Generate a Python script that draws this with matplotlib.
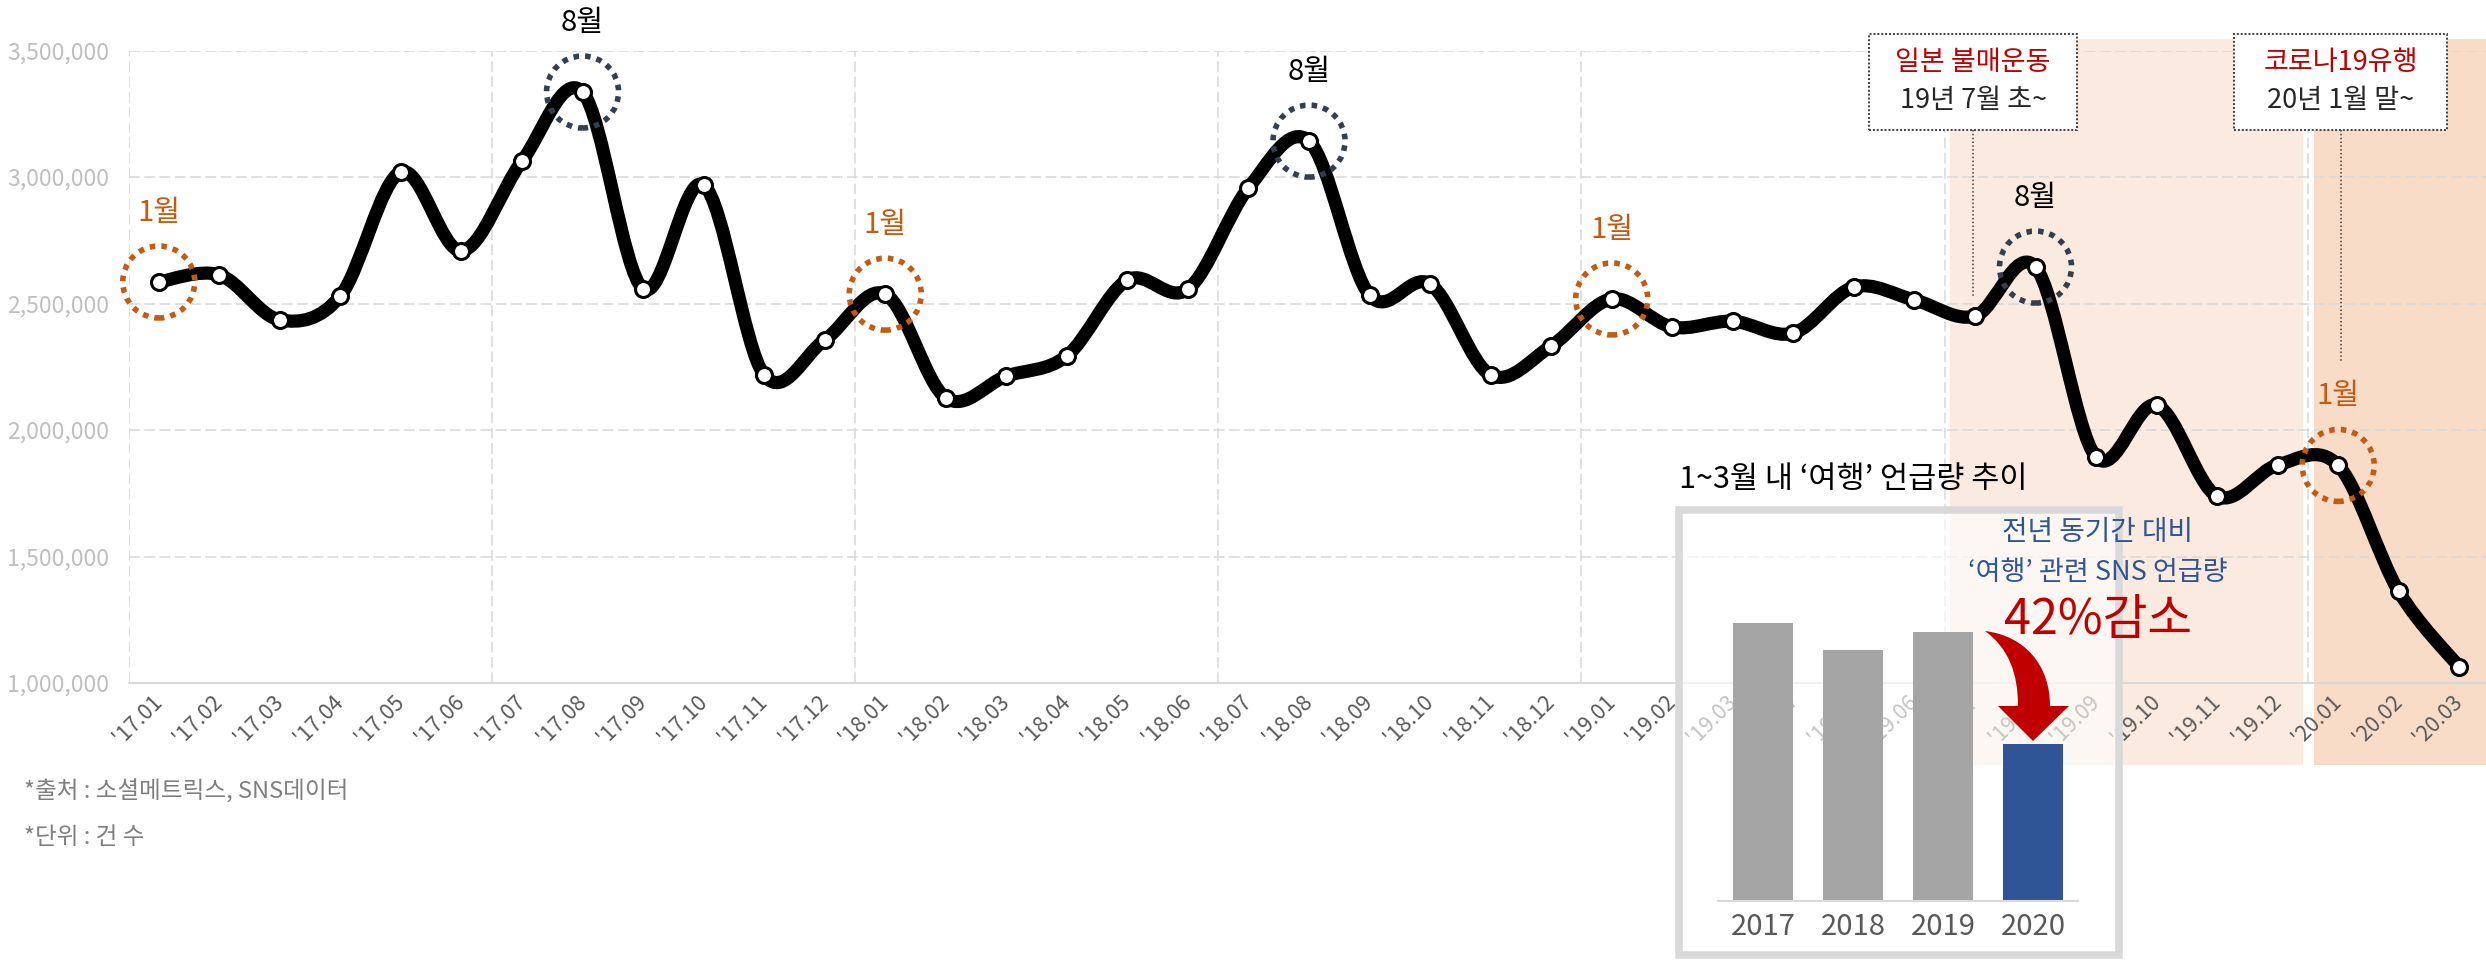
import numpy as np
import matplotlib
matplotlib.use("Agg")
import matplotlib.pyplot as plt
import matplotlib.transforms as mtransforms
from matplotlib.path import Path
from matplotlib.patches import PathPatch, Rectangle, Circle
from matplotlib.lines import Line2D
from matplotlib.ticker import StrMethodFormatter

plt.rcParams['font.family'] = ['Noto Sans CJK KR', 'DejaVu Sans']

# monthly '여행' mentions, '17.01 ~ '20.03
months = ["'17.01", "'17.02", "'17.03", "'17.04", "'17.05", "'17.06",
          "'17.07", "'17.08", "'17.09", "'17.10", "'17.11", "'17.12",
          "'18.01", "'18.02", "'18.03", "'18.04", "'18.05", "'18.06",
          "'18.07", "'18.08", "'18.09", "'18.10", "'18.11", "'18.12",
          "'19.01", "'19.02", "'19.03", "'19.04", "'19.05", "'19.06",
          "'19.07", "'19.08", "'19.09", "'19.10", "'19.11", "'19.12",
          "'20.01", "'20.02", "'20.03"]
mentions = [2585000, 2613000, 2435000, 2530000, 3020000, 2708000,
            3063000, 3336000, 2558000, 2968000, 2217000, 2356000,
            2537000, 2127000, 2213000, 2293000, 2593000, 2557000,
            2957000, 3142000, 2533000, 2577000, 2217000, 2332000,
            2518000, 2407000, 2430000, 2383000, 2565000, 2514000,
            2450000, 2644000, 1893000, 2098000, 1738000, 1862000,
            1860000, 1362000, 1063000]
jan_points = ["'17.01", "'18.01", "'19.01", "'20.01"]
aug_points = ["'17.08", "'18.08", "'19.08"]
y_ticks = [1000000, 1500000, 2000000, 2500000, 3000000, 3500000]

# inset: Q1 totals
q1_years = ['2017', '2018', '2019', '2020']
q1_mentions = [7630000, 6880000, 7360000, 4290000]

ORANGE = '#C55A11'
SLATE = '#323F4F'
RED = '#C00000'
BLUE = '#2F5597'

W, H = 2486, 960
fig = plt.figure(figsize=(W / 100, H / 100), dpi=100)


def fx(x):
    return x / W


def fy(y):
    # y measured from the top of the picture, in pixels
    return 1 - y / H


# ---- main line chart ----
ax = fig.add_axes([fx(128.5), fy(683), 39 * 60.54 / W, (683 - 50.5) / H])
ax.set_facecolor('none')
xs = np.arange(len(months))
ys = np.array(mentions, dtype=float)

# smoothed line like excel: cubic bezier through the points
pts = np.column_stack([xs, ys])
ext = np.vstack([pts[0], pts, pts[-1]])
verts = [pts[0]]
codes = [Path.MOVETO]
for i in range(len(pts) - 1):
    p0, p1, p2, p3 = ext[i], ext[i + 1], ext[i + 2], ext[i + 3]
    verts += [p1 + (p2 - p0) / 6, p2 - (p3 - p1) / 6, p2]
    codes += [Path.CURVE4] * 3
ax.add_patch(PathPatch(Path(verts, codes), fill=False, ec='black', lw=9.5,
                       capstyle='round', joinstyle='round', zorder=3,
                       clip_on=False))
ax.plot(xs, ys, 'o', ms=11.5, mfc='white', mec='black', mew=2.2,
        zorder=6, clip_on=False)

# dotted rings + month labels
for names, color in [(jan_points, ORANGE), (aug_points, SLATE)]:
    for name in names:
        i = months.index(name)
        tr = mtransforms.IdentityTransform() + \
            mtransforms.ScaledTranslation(i, mentions[i], ax.transData)
        ring = Circle((0, 0), 36, transform=tr, fill=False, ec=color, lw=4,
                      ls=(0, (1, 1.1)), zorder=5, clip_on=False)
        ax.add_artist(ring)
        ax.annotate(name[-2:].lstrip('0') + '월', (i, mentions[i]),
                    xytext=(0, 50), textcoords='offset points',
                    ha='center', va='center', fontsize=21,
                    color=ORANGE if color == ORANGE else 'black')

ax.set_xlim(-0.5, len(months) - 0.5)
ax.set_ylim(y_ticks[0], y_ticks[-1])
ax.set_yticks(y_ticks)
ax.yaxis.set_major_formatter(StrMethodFormatter('{x:,.0f}'))
ax.set_xticks(xs)
ax.set_xticklabels(months)
for lbl in ax.get_xticklabels():
    lbl.set_rotation(45)
    lbl.set_ha('right')
    lbl.set_va('center')
    lbl.set_rotation_mode('anchor')
ax.set_xticks(np.arange(-0.5, len(months), 6), minor=True)
ax.tick_params(axis='x', which='both', length=0, pad=11, labelsize=15.5,
               labelcolor='#595959')
ax.tick_params(axis='y', length=0, pad=14, labelsize=16.5, labelcolor='#BFBFBF')
ax.set_axisbelow(True)
ax.yaxis.grid(True, color='#D9D9D9', lw=1.1, ls=(0, (7, 3)))
ax.xaxis.grid(True, which='minor', color='#D9D9D9', lw=1.1, ls=(0, (7, 3)))
ax.xaxis.grid(False, which='major')
for side in ['top', 'right', 'left']:
    ax.spines[side].set_visible(False)
ax.spines['bottom'].set_color('#D9D9D9')
ax.spines['bottom'].set_linewidth(1.5)

# shaded periods (behind the axes, reaching below the tick labels)
blend = mtransforms.blended_transform_factory(ax.transData, fig.transFigure)
shade_y0, shade_y1 = fy(765), fy(39)
fig.add_artist(Rectangle((29.58, shade_y0), 35.42 - 29.58, shade_y1 - shade_y0,
                         transform=blend, fc='#FBEADF', ec='none', zorder=-1))
fig.add_artist(Rectangle((35.6, shade_y0), 39.5 - 35.6, shade_y1 - shade_y0,
                         transform=blend, fc='#F8DCC8', ec='none', zorder=-1))

# event boxes with dotted leader lines
events = [(1869, 2077, 297, '일본 불매운동', '19년 7월 초~'),
          (2234, 2447, 362, '코로나19유행', '20년 1월 말~')]
for x0, x1, y_end, title, sub in events:
    fig.add_artist(Rectangle((fx(x0), fy(130)), (x1 - x0) / W, (130 - 34) / H,
                             fc='white', ec='#404040', lw=1.4,
                             ls=(0, (1, 1)), zorder=2))
    xc = (x0 + x1) / 2
    fig.add_artist(Line2D([fx(xc), fx(xc)], [fy(130), fy(y_end)],
                          color='#404040', lw=1.1, ls=(0, (1, 1.5)), zorder=2))
    fig.text(fx(xc), fy(63), title, color=RED, fontsize=19.5, ha='center',
             va='center', zorder=3)
    fig.text(fx(xc), fy(100), sub, color='#262626', fontsize=19.5, ha='center',
             va='center', zorder=3)

# ---- inset bar chart ----
fig.add_artist(Rectangle((fx(1678.75), fy(955.25)), (2119.25 - 1678.75) / W,
                         (955.25 - 509.75) / H, fc=(1, 1, 1, 0.65),
                         ec='#D9D9D9', lw=5.4, zorder=1))
bax = fig.add_axes([fx(1718), fy(901), 360 / W, 300 / H], zorder=2)
bax.set_facecolor('none')
bax.bar(range(len(q1_years)), q1_mentions, width=0.667,
        color=['#A5A5A5', '#A5A5A5', '#A5A5A5', BLUE])
bax.set_xlim(-0.5, len(q1_years) - 0.5)
bax.set_ylim(0, 8220000)
bax.set_xticks(range(len(q1_years)))
bax.set_xticklabels(q1_years)
bax.set_yticks([])
bax.tick_params(axis='x', length=0, pad=8, labelsize=21, labelcolor='#595959')
for side in ['top', 'right', 'left']:
    bax.spines[side].set_visible(False)
bax.spines['bottom'].set_color('#D9D9D9')
bax.spines['bottom'].set_linewidth(1.5)

fig.text(fx(1679), fy(480), '1~3월 내 ‘여행’ 언급량 추이', fontsize=22,
         color='black', ha='left', va='center', zorder=3)
fig.text(fx(2098), fy(532), '전년 동기간 대비', fontsize=20, color=BLUE,
         ha='center', va='center', zorder=3)
fig.text(fx(2098), fy(572), '‘여행’ 관련 SNS 언급량', fontsize=19.5, color=BLUE,
         ha='center', va='center', zorder=3)
fig.text(fx(2098), fy(620), '42%감소', fontsize=35, color=RED,
         ha='center', va='center', zorder=3)

# curved red arrow pointing at the 2020 bar
arrow_px = [(1985, 631), (2025, 636), (2050, 665), (2050, 706),
            (2069, 706), (2033, 741), (1998, 706), (2018, 706),
            (2018, 672), (2008, 648), (1985, 631), (1985, 631)]
arrow_codes = [Path.MOVETO, Path.CURVE4, Path.CURVE4, Path.CURVE4,
               Path.LINETO, Path.LINETO, Path.LINETO, Path.LINETO,
               Path.CURVE4, Path.CURVE4, Path.CURVE4, Path.CLOSEPOLY]
arrow = Path([(fx(x), fy(y)) for x, y in arrow_px], arrow_codes)
fig.add_artist(PathPatch(arrow, transform=fig.transFigure, fc=RED, ec='none',
                         zorder=3))

# footnotes
fig.text(fx(24), fy(792), '*출처 : 소셜메트릭스, SNS데이터', fontsize=17,
         color='#7F7F7F', ha='left', va='center')
fig.text(fx(24), fy(837), '*단위 : 건 수', fontsize=17,
         color='#7F7F7F', ha='left', va='center')

fig.savefig('out.png', dpi=100)
